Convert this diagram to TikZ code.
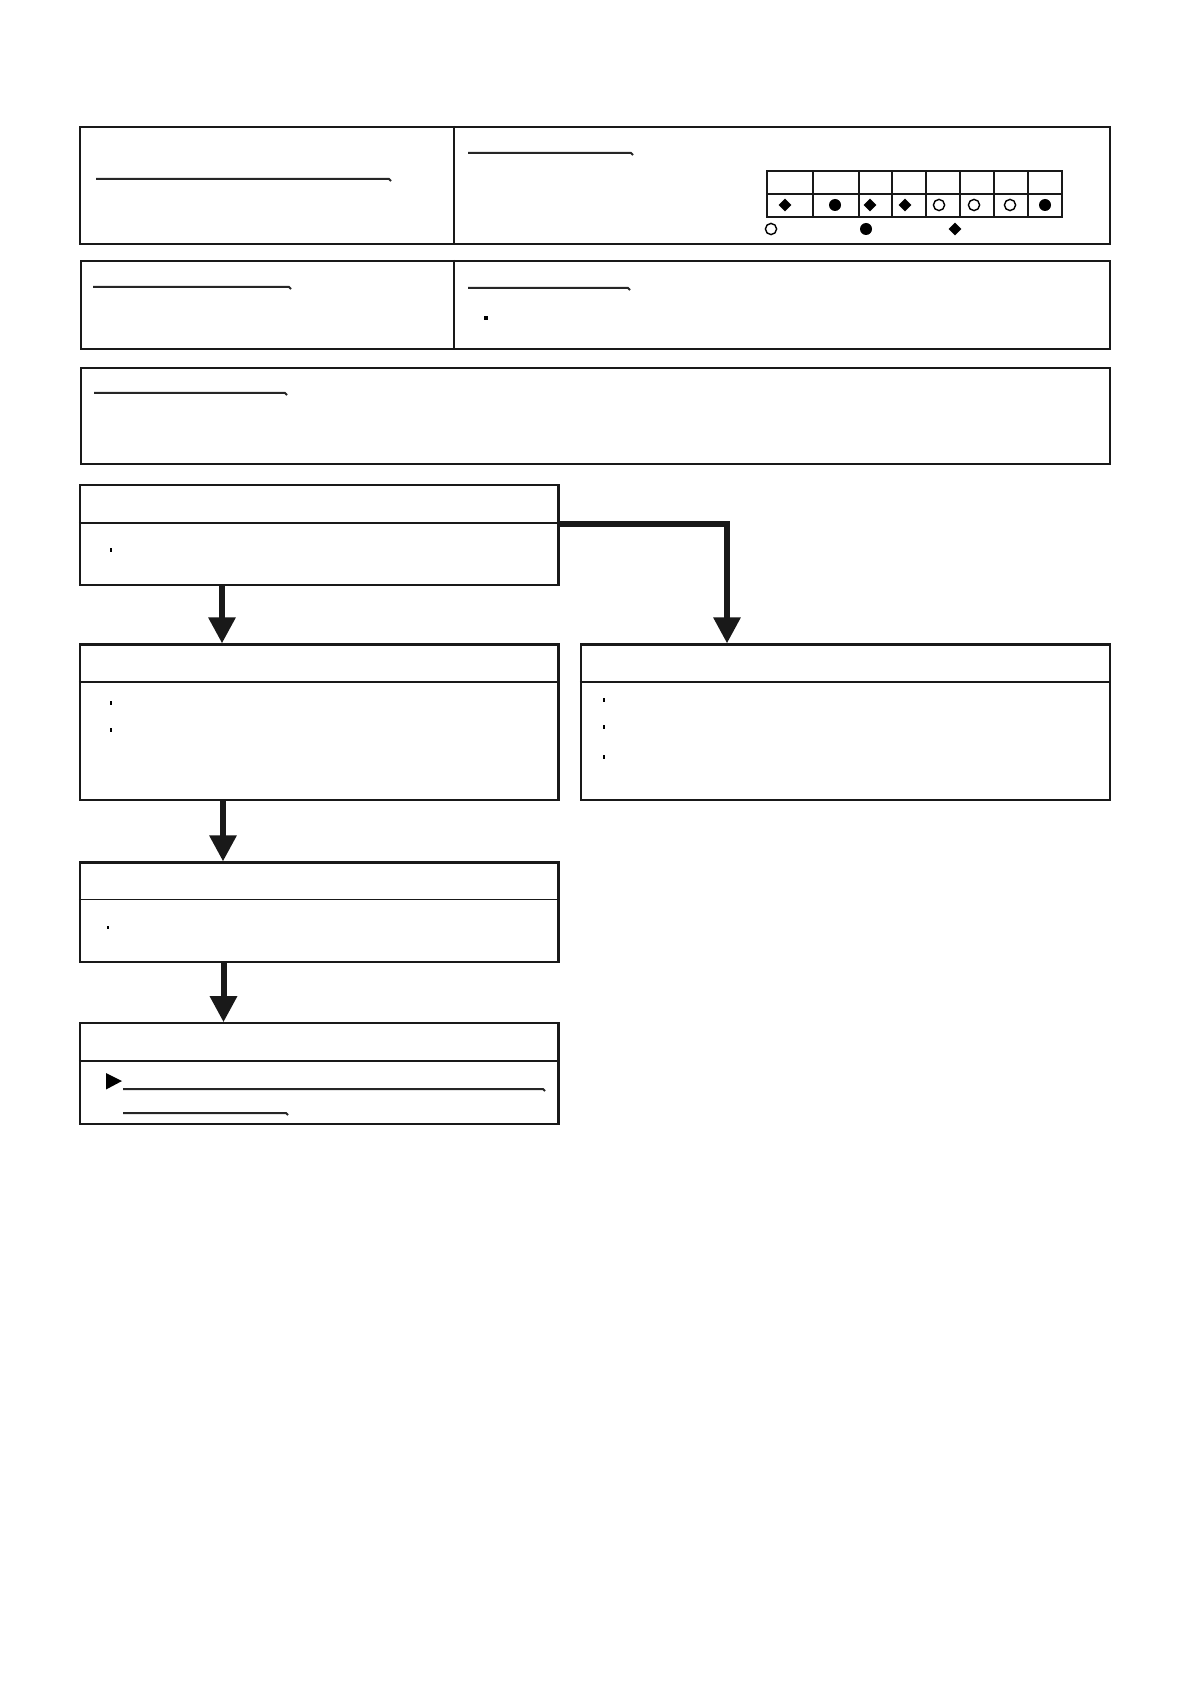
\documentclass[tikz,border=0pt]{standalone}
\usetikzlibrary{arrows.meta,fit,shapes.geometric}
\tikzset{
  box/.style={draw=black!90,line width=1.1pt,inner sep=0pt},
  hdr/.style={draw=black!90,line width=0.8pt},
  conn/.style={draw=black!90,line width=3pt,-{Triangle[width=13pt,length=13pt]}},
  uline/.style={draw=black!85,line width=1pt},
  bul/.style={fill=black,inner sep=0pt,minimum width=1.4pt,minimum height=1.7pt,rectangle},
  fdot/.style={circle,fill=black,inner sep=0pt,minimum size=6pt},
  odot/.style={circle,draw=black,line width=0.7pt,inner sep=0pt,minimum size=5.6pt},
  dia/.style={diamond,fill=black,inner sep=0pt,minimum size=6.5pt},
  grid/.style={draw=black!90,line width=1pt}
}
\begin{document}
\begin{tikzpicture}[x=0.5pt,y=-0.5pt]
\useasboundingbox (0,0) rectangle (1191,1684);
% ---------- top boxes
\node[box,fit={(80,127) (1110,244)}] (T1) {};
\draw[hdr,line width=1.1pt] (T1.north -| 454,0) -- (T1.south -| 454,0);
\node[box,fit={(81,261) (1110,349)}] (T2) {};
\draw[hdr,line width=1.1pt] (T2.north -| 454,0) -- (T2.south -| 454,0);
\node[box,fit={(81,368) (1110,464)}] (T3) {};
% underlines
\draw[uline] (96,179) -- (389,179) -- ++(2,2);
\draw[uline] (468,153) -- (631,153) -- ++(2,2);
\draw[uline] (93,287) -- (289,287) -- ++(2,2);
\draw[uline] (468,288) -- (628,288) -- ++(2,2);
\draw[uline] (94,393) -- (285,393) -- ++(2,2);
% table
\draw[grid] (767,171) rectangle (1062,217);
\draw[grid] (767,194) -- (1062,194);
\foreach \c in {812.7,858.5,891.8,926,960.2,993.9,1028.1}
  \draw[grid] (\c,171) -- (\c,217);
\node[dia]  (s1) at (785,205) {};
\node[fdot] (s2) at (835,205) {};
\node[dia]  (s3) at (870,205) {};
\node[dia]  (s4) at (905,205) {};
\node[odot] (s5) at (939,205) {};
\node[odot] (s6) at (974,205) {};
\node[odot] (s7) at (1010,205) {};
\node[fdot] (s8) at (1045,205) {};
\node[odot] (l1) at (771,229) {};
\node[fdot] (l2) at (866,229) {};
\node[dia]  (l3) at (955,229) {};
\node[bul,minimum width=1.6pt,minimum height=2.2pt] (b0) at (486,318) {};
% ---------- flow boxes
\node[box,fit={(80,485) (558.5,585)}] (A) {};
\draw[hdr] (A.west |- 0,523) -- (A.east |- 0,523);
\node[bul] (bA) at (111,550) {};
\node[box,fit={(80,644.5) (558.5,800)}] (B) {};
\draw[hdr,line width=1.1pt] (B.west |- 0,682) -- (B.east |- 0,682);
\node[bul] (bB1) at (111,703) {};
\node[bul] (bB2) at (111,730) {};
\node[box,fit={(581,644.5) (1110,800)}] (C) {};
\draw[hdr,line width=1.1pt] (C.west |- 0,682) -- (C.east |- 0,682);
\node[bul] (bC1) at (604,700) {};
\node[bul] (bC2) at (604,727) {};
\node[bul] (bC3) at (604,757) {};
\node[box,fit={(80,862.5) (558.5,962.3)}] (D) {};
\draw[hdr] (D.west |- 0,899.3) -- (D.east |- 0,899.3);
\node[bul] (bD) at (108,927.5) {};
\node[box,fit={(80,1023.3) (558.5,1124)}] (E) {};
\draw[hdr,line width=1.1pt] (E.west |- 0,1060.7) -- (E.east |- 0,1060.7);
\fill[black] (106,1073) -- (122,1081) -- (106,1089.5) -- cycle;
\draw[uline] (123,1089) -- (543,1089) -- ++(2,2);
\draw[uline] (123,1113) -- (286,1113) -- ++(2,2);
% ---------- connectors
\coordinate (Ahd) at (558.5,524);
\draw[conn] (A.south -| 222,0) -- (B.north -| 222,0);
\draw[conn] (Ahd) -| (C.north -| 727,0);
\draw[conn] (B.south -| 223,0) -- (D.north -| 223,0);
\draw[conn] (D.south -| 223.5,0) -- (E.north -| 223.5,0);
\end{tikzpicture}
\end{document}
